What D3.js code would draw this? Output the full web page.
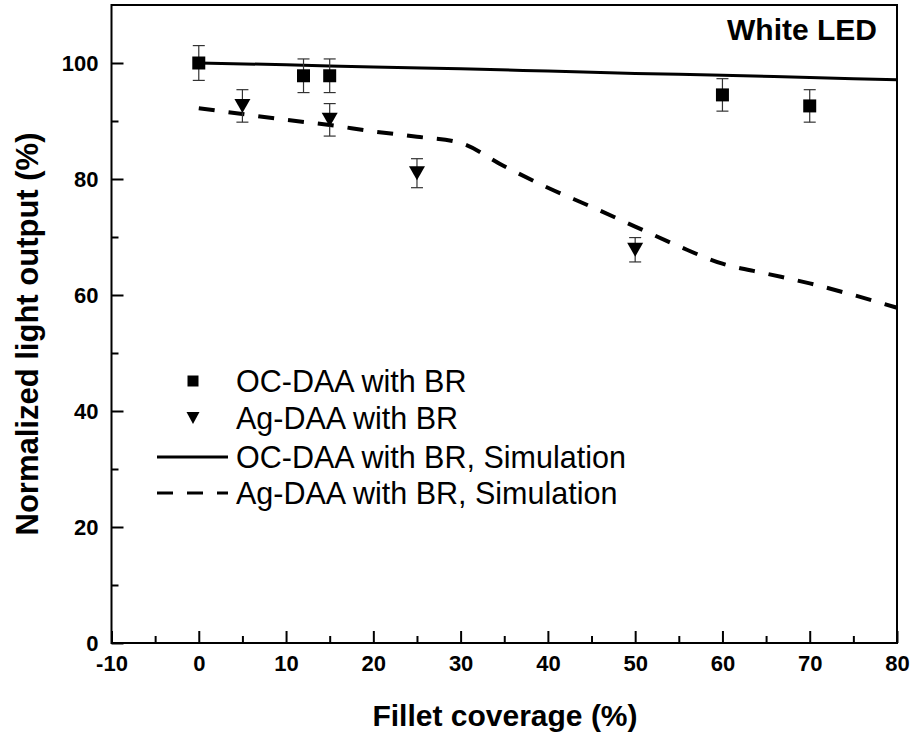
<!DOCTYPE html>
<html>
<head>
<meta charset="utf-8">
<script src="https://cdn.jsdelivr.net/npm/d3@7"></script>
<style>
  html, body { margin: 0; padding: 0; background: #fff; }
  svg { display: block; }
  text { font-family: Arial, "Liberation Sans", sans-serif; fill: #000; }
</style>
</head>
<body>
<svg id="chart" width="914" height="738"></svg>
<script>
// ---- data ----
const ocX = [0, 12, 15, 60, 70];
const ocY = [100, 97.8, 97.8, 94.5, 92.6];
const ocErr = [3.0, 2.9, 2.9, 2.8, 2.8];

const agX = [5, 15, 25, 50];
const agY = [92.6, 90.2, 81.0, 67.8];
const agErr = [2.8, 2.8, 2.5, 2.1];

const ocSimX = [0, 10, 20, 30, 40, 50, 60, 70, 80];
const ocSimY = [100, 99.7, 99.3, 99.0, 98.6, 98.2, 97.9, 97.5, 97.1];

const agSimX = [0, 5, 10, 15, 20, 25, 30, 35, 40, 45, 50, 55, 60, 65, 70, 75, 80];
const agSimY = [92.2, 91.2, 90.2, 89.3, 88.2, 87.3, 86.2, 82.2, 78.5, 75.2, 71.8, 68.4, 65.4, 63.7, 62.0, 60.0, 57.8];

const xTicks = [-10, 0, 10, 20, 30, 40, 50, 60, 70, 80];
const xMinor = [-5, 5, 15, 25, 35, 45, 55, 65, 75];
const yTicks = [0, 20, 40, 60, 80, 100];
const yMinor = [10, 30, 50, 70, 90];

const legendLabels = ["OC-DAA with BR", "Ag-DAA with BR", "OC-DAA with BR, Simulation", "Ag-DAA with BR, Simulation"];

// ---- layout ----
const svg = d3.select("#chart");
const L = 111.5, R = 897, T = 5, B = 643;
const x = d3.scaleLinear().domain([-10, 80]).range([L, R]);
const y = d3.scaleLinear().domain([0, 110]).range([B, T]);
const fmt = d => String(d);

// ---- frame ----
svg.append("rect").attr("x", L).attr("y", T).attr("width", R - L).attr("height", B - T)
  .attr("fill", "none").attr("stroke", "#000").attr("stroke-width", 2);

// ---- axes ----
const xAxis = svg.append("g").attr("transform", `translate(0,${B})`)
  .call(d3.axisBottom(x).tickValues(xTicks).tickSize(-12).tickPadding(0).tickFormat(fmt));
xAxis.select(".domain").remove();
xAxis.selectAll(".tick line").attr("stroke", "#000").attr("stroke-width", 2);
xAxis.selectAll(".tick text").attr("y", 28).attr("dy", 0)
  .style("font-size", "22px").style("font-weight", "bold");
const xAxisMinor = svg.append("g").attr("transform", `translate(0,${B})`)
  .call(d3.axisBottom(x).tickValues(xMinor).tickSize(-7).tickFormat(""));
xAxisMinor.select(".domain").remove();
xAxisMinor.selectAll(".tick line").attr("stroke", "#000").attr("stroke-width", 2);

const yAxis = svg.append("g").attr("transform", `translate(${L},0)`)
  .call(d3.axisLeft(y).tickValues(yTicks).tickSize(-12).tickPadding(0).tickFormat(fmt));
yAxis.select(".domain").remove();
yAxis.selectAll(".tick line").attr("stroke", "#000").attr("stroke-width", 2);
yAxis.selectAll(".tick text").attr("x", -13).attr("dy", "0.36em")
  .style("font-size", "22px").style("font-weight", "bold");
const yAxisMinor = svg.append("g").attr("transform", `translate(${L},0)`)
  .call(d3.axisLeft(y).tickValues(yMinor).tickSize(-7).tickFormat(""));
yAxisMinor.select(".domain").remove();
yAxisMinor.selectAll(".tick line").attr("stroke", "#000").attr("stroke-width", 2);

// ---- axis titles ----
svg.append("text").attr("x", 505).attr("y", 726)
  .attr("text-anchor", "middle").style("font-size", "30px").style("font-weight", "bold")
  .text("Fillet coverage (%)");
svg.append("text").attr("transform", `translate(38,${334}) rotate(-90)`)
  .attr("text-anchor", "middle").style("font-size", "31px").style("font-weight", "bold")
  .text("Normalized light output (%)");

svg.append("text").attr("x", 727).attr("y", 40)
  .style("font-size", "30px").style("font-weight", "bold").text("White LED");

// ---- simulation lines ----
const line = d3.line().x(d => x(d[0])).y(d => y(d[1])).curve(d3.curveMonotoneX);
svg.append("path").datum(d3.zip(ocSimX, ocSimY)).attr("d", line)
  .attr("fill", "none").attr("stroke", "#000").attr("stroke-width", 3);
svg.append("path").datum(d3.zip(agSimX, agSimY)).attr("d", line)
  .attr("fill", "none").attr("stroke", "#000").attr("stroke-width", 4)
  .attr("stroke-dasharray", "16,14");

// ---- error bars ----
function errBars(xs, ys, es) {
  const g = svg.append("g").attr("stroke", "#333").attr("stroke-width", 1.2);
  xs.forEach((xv, i) => {
    const cx = x(xv), top = y(ys[i] + es[i]), bot = y(ys[i] - es[i]);
    g.append("line").attr("x1", cx).attr("x2", cx).attr("y1", top).attr("y2", bot);
    g.append("line").attr("x1", cx - 6).attr("x2", cx + 6).attr("y1", top).attr("y2", top);
    g.append("line").attr("x1", cx - 6).attr("x2", cx + 6).attr("y1", bot).attr("y2", bot);
  });
}
errBars(ocX, ocY, ocErr);
errBars(agX, agY, agErr);

// ---- markers ----
const sq = (s) => `M${-s / 2},${-s / 2}h${s}v${s}h${-s}Z`;
const tri = (w, h) => `M${-w / 2},${-h / 2}L${w / 2},${-h / 2}L0,${h / 2}Z`;
svg.append("g").selectAll("path").data(d3.zip(ocX, ocY)).join("path")
  .attr("transform", d => `translate(${x(d[0])},${y(d[1])})`)
  .attr("d", sq(13)).attr("fill", "#000");
svg.append("g").selectAll("path").data(d3.zip(agX, agY)).join("path")
  .attr("transform", d => `translate(${x(d[0])},${y(d[1])})`)
  .attr("d", tri(16, 14)).attr("fill", "#000");

// ---- legend ----
const lg = svg.append("g");
const rows = [381, 418, 457, 493];
lg.append("path").attr("transform", `translate(193,${rows[0]})`).attr("d", sq(11)).attr("fill", "#000");
lg.append("path").attr("transform", `translate(193,${rows[1]})`).attr("d", tri(13, 12)).attr("fill", "#000");
lg.append("line").attr("x1", 157).attr("x2", 228).attr("y1", rows[2]).attr("y2", rows[2])
  .attr("stroke", "#000").attr("stroke-width", 3);
lg.append("line").attr("x1", 157).attr("x2", 228).attr("y1", rows[3]).attr("y2", rows[3])
  .attr("stroke", "#000").attr("stroke-width", 3).attr("stroke-dasharray", "16,14");
legendLabels.forEach((t, i) => {
  lg.append("text").attr("x", 236).attr("y", rows[i]).attr("dy", "0.36em")
    .style("font-size", "30.5px").text(t);
});
</script>
</body>
</html>
